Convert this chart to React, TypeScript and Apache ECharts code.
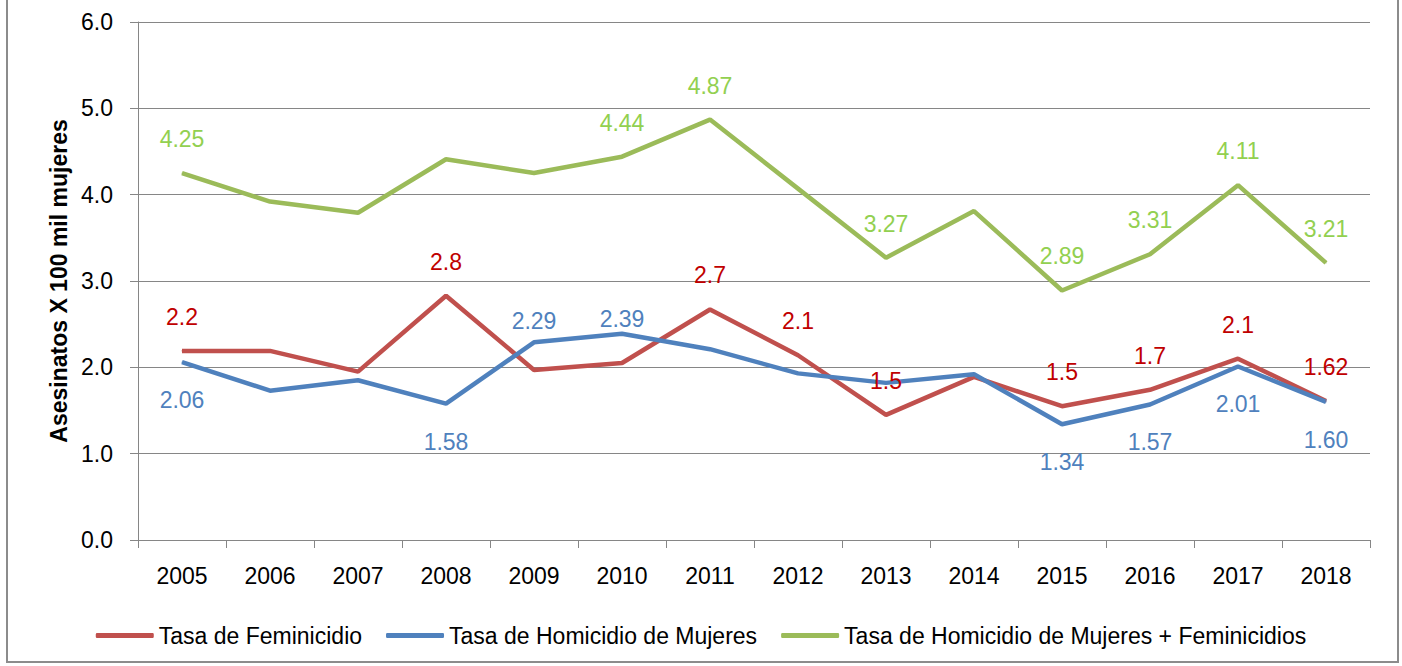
import React, { useEffect, useRef } from "react";
import * as echarts from "echarts";

const years = ["2005", "2006", "2007", "2008", "2009", "2010", "2011", "2012", "2013", "2014", "2015", "2016", "2017", "2018"];
const feminicidio = [2.19, 2.19, 1.95, 2.83, 1.97, 2.05, 2.67, 2.14, 1.45, 1.89, 1.55, 1.74, 2.10, 1.61];
const homicidio = [2.06, 1.73, 1.85, 1.58, 2.29, 2.39, 2.21, 1.93, 1.82, 1.92, 1.34, 1.57, 2.01, 1.60];
const total = [4.25, 3.92, 3.79, 4.41, 4.25, 4.44, 4.87, 4.07, 3.27, 3.81, 2.89, 3.31, 4.11, 3.21];

const feminicidioLabels = ["2.2", "", "", "2.8", "", "", "2.7", "2.1", "1.5", "", "1.5", "1.7", "2.1", "1.62"];
const homicidioLabels = ["2.06", "", "", "1.58", "2.29", "2.39", "", "", "", "", "1.34", "1.57", "2.01", "1.60"];
const totalLabels = ["4.25", "", "", "", "", "4.44", "4.87", "", "3.27", "", "2.89", "3.31", "4.11", "3.21"];

const yTicks = [0, 1, 2, 3, 4, 5, 6];

const seriesNames = [
  "Tasa de Feminicidio",
  "Tasa de Homicidio de Mujeres",
  "Tasa de Homicidio de Mujeres + Feminicidios",
];

const FONT = "'Liberation Sans', Arial, sans-serif";

export default function App() {
  const ref = useRef<HTMLDivElement>(null);

  useEffect(() => {
    if (!ref.current) return;
    const chart = echarts.init(ref.current, undefined, { renderer: "svg" });

    // label placement styles (blue labels mostly below, two above)
    const blueAboveDistance: Record<number, number> = { 4: 9, 5: 3 };

    const build = (
      values: number[],
      labels: string[],
      placement: (i: number) => { position: string; distance: number }
    ) =>
      values.map((v, i) => {
        const p = placement(i);
        return {
          value: v,
          label: {
            show: labels[i] !== "",
            position: p.position,
            distance: p.distance,
            formatter: labels[i],
          },
        };
      });

    const lineSeries = (name: string, color: string, labelColor: string, data: any[]) => ({
      name,
      type: "line",
      symbol: "circle",
      symbolSize: 1,
      showSymbol: true,
      lineStyle: { color, width: 4.5 },
      itemStyle: { color },
      label: { fontSize: 23, color: labelColor, fontFamily: FONT },
      emphasis: { disabled: true },
      data,
    });

    const option: any = {
      animation: false,
      backgroundColor: "#ffffff",
      textStyle: { fontFamily: FONT },
      grid: { left: 138, right: 32, top: 22, bottom: 126, containLabel: false },
      graphic: [
        {
          type: "rect",
          shape: { x: 7, y: -2, width: 1391, height: 664 },
          style: { fill: "none", stroke: "#8c8c8c", lineWidth: 2 },
          silent: true,
        },
      ],
      legend: {
        data: seriesNames,
        left: "center",
        top: 619,
        icon: "roundRect",
        itemWidth: 58,
        itemHeight: 5,
        itemGap: 24,
        textStyle: { fontSize: 23, color: "#000", fontFamily: FONT },
      },
      xAxis: {
        type: "category",
        data: years,
        boundaryGap: true,
        axisLine: { lineStyle: { color: "#868686", width: 1 } },
        axisTick: { show: true, length: 8, lineStyle: { color: "#868686" } },
        axisLabel: { fontSize: 23, color: "#000", margin: 24, fontFamily: FONT },
      },
      yAxis: {
        type: "value",
        min: yTicks[0],
        max: yTicks[yTicks.length - 1],
        interval: 1,
        name: "Asesinatos X 100 mil mujeres",
        nameLocation: "middle",
        nameRotate: 90,
        nameGap: 68,
        nameTextStyle: { fontSize: 23, fontWeight: "bold", color: "#000", fontFamily: FONT },
        axisLine: { show: true, lineStyle: { color: "#868686", width: 1 } },
        axisTick: { show: true, length: 8, inside: false, lineStyle: { color: "#868686" } },
        axisLabel: {
          fontSize: 23,
          color: "#000",
          margin: 25,
          fontFamily: FONT,
          formatter: (v: number) => v.toFixed(1),
        },
        splitLine: { show: true, lineStyle: { color: "#868686", width: 1 } },
      },
      series: [
        lineSeries(
          seriesNames[0],
          "#C0504D",
          "#C00000",
          build(feminicidio, feminicidioLabels, () => ({ position: "top", distance: 22 }))
        ),
        lineSeries(
          seriesNames[1],
          "#4F81BD",
          "#4F81BD",
          build(homicidio, homicidioLabels, (i) =>
            blueAboveDistance[i] !== undefined
              ? { position: "top", distance: blueAboveDistance[i] }
              : { position: "bottom", distance: 26 }
          )
        ),
        lineSeries(
          seriesNames[2],
          "#9BBB59",
          "#92D050",
          build(total, totalLabels, () => ({ position: "top", distance: 22 }))
        ),
      ],
    };

    chart.setOption(option);
    return () => chart.dispose();
  }, []);

  return (
    <div
      ref={ref}
      style={{ position: "fixed", left: 0, top: 0, width: 1402, height: 666, background: "#fff" }}
    />
  );
}
